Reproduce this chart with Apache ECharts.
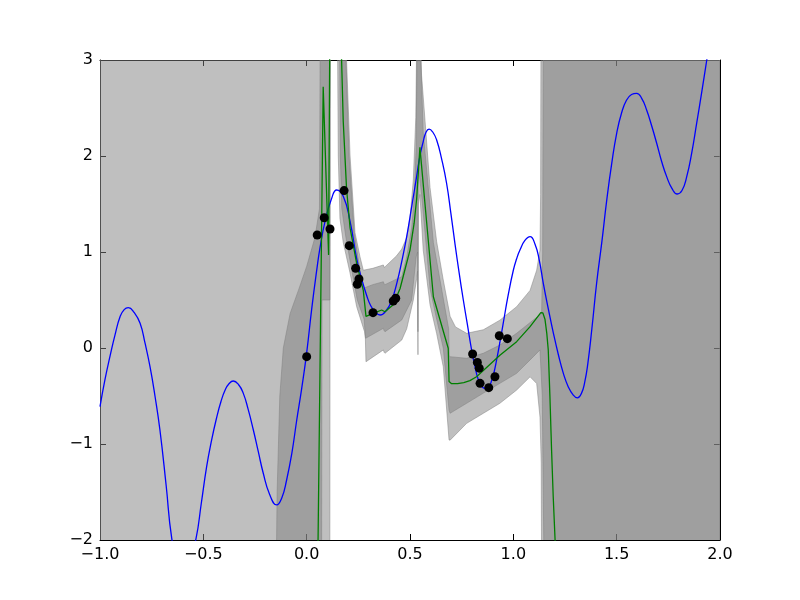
<!DOCTYPE html>
<html>
<head>
<meta charset="utf-8">
<script src="https://cdn.jsdelivr.net/npm/echarts@6/dist/echarts.min.js"></script>
<style>
  html, body { margin: 0; padding: 0; background: #fff; }
  #chart { width: 800px; height: 600px; }
</style>
</head>
<body>
<div id="chart"></div>
<script>
  // tick positions
  const xTicks = [-1.0, -0.5, 0.0, 0.5, 1.0, 1.5, 2.0];
  const yTicks = [-2, -1, 0, 1, 2, 3];

  // true function (blue)
  const truthLine = [
    [-1.0,-0.61],[-0.976,-0.33],[-0.952,-0.09],[-0.927,0.14],[-0.903,0.326],[-0.883,0.40],[-0.863,0.42],
    [-0.835,0.37],[-0.806,0.257],[-0.782,0.05],[-0.758,-0.195],[-0.734,-0.5],[-0.71,-0.854],[-0.68,-1.43],
    [-0.653,-1.98],[-0.625,-2.22],[-0.594,-2.3],[-0.565,-2.2],[-0.535,-1.98],[-0.51,-1.62],[-0.484,-1.236],
    [-0.46,-0.96],[-0.435,-0.72],[-0.415,-0.56],[-0.395,-0.44],[-0.375,-0.37],[-0.355,-0.344],[-0.33,-0.38],
    [-0.307,-0.47],[-0.283,-0.64],[-0.258,-0.854],[-0.234,-1.08],[-0.21,-1.305],[-0.18,-1.52],[-0.145,-1.635],
    [-0.12,-1.56],[-0.097,-1.375],[-0.072,-1.1],[-0.048,-0.75],[-0.024,-0.42],[0.0,-0.05],[0.024,0.40],
    [0.048,0.80],[0.065,1.05],[0.089,1.32],[0.121,1.56],[0.145,1.646],[0.177,1.58],[0.21,1.32],[0.242,0.93],
    [0.266,0.72],[0.29,0.55],[0.31,0.44],[0.331,0.378],[0.355,0.344],[0.387,0.396],[0.412,0.5],[0.436,0.674],
    [0.46,0.9],[0.484,1.16],[0.508,1.47],[0.532,1.785],[0.548,2.0],[0.564,2.15],[0.578,2.25],[0.592,2.28],
    [0.61,2.25],[0.629,2.167],[0.653,1.97],[0.677,1.716],[0.698,1.40],[0.718,1.08],[0.738,0.78],[0.758,0.5],
    [0.778,0.24],[0.798,-0.02],[0.815,-0.2],[0.831,-0.333],[0.847,-0.4],[0.863,-0.42],[0.879,-0.41],
    [0.895,-0.34],[0.907,-0.25],[0.919,-0.125],[0.935,0.06],[0.951,0.257],[0.975,0.55],[1.0,0.81],[1.016,0.93],
    [1.032,1.02],[1.056,1.12],[1.081,1.16],[1.105,1.08],[1.125,0.92],[1.145,0.674],[1.17,0.4],[1.194,0.153],
    [1.218,-0.07],[1.242,-0.264],[1.265,-0.40],[1.29,-0.49],[1.31,-0.52],[1.33,-0.47],[1.345,-0.36],
    [1.36,-0.17],[1.38,0.2],[1.403,0.674],[1.428,1.1],[1.452,1.54],[1.476,1.92],[1.5,2.236],[1.524,2.45],
    [1.548,2.583],[1.572,2.64],[1.597,2.653],[1.621,2.6],[1.645,2.48],[1.67,2.31],[1.694,2.13],[1.718,1.94],
    [1.742,1.785],[1.768,1.66],[1.793,1.604],[1.816,1.64],[1.839,1.785],[1.863,2.03],[1.887,2.34],
    [1.912,2.67],[1.936,3.0],[1.97,3.45],[2.0,3.85]
  ];

  // predicted mean (green)
  const meanLine = [
    [0.052,-2.6],[0.080,2.72],[0.106,0.97],[0.112,3.3],[0.14,4.0],[0.169,3.0],[0.177,2.36],[0.193,1.66],
    [0.21,1.25],[0.242,0.88],[0.274,0.6],[0.287,0.33],[0.322,0.361],[0.363,0.396],[0.371,0.40],[0.379,0.378],
    [0.419,0.45],[0.452,0.62],[0.476,0.82],[0.5,1.02],[0.52,1.3],[0.532,1.55],[0.548,2.09],[0.573,1.49],
    [0.613,0.534],[0.685,-0.003],[0.689,-0.35],[0.70,-0.37],[0.73,-0.372],[0.76,-0.36],[0.79,-0.34],
    [0.822,-0.3],[0.935,-0.075],[1.016,0.066],[1.08,0.22],[1.133,0.368],[1.143,0.365],[1.153,0.30],
    [1.162,0.15],[1.169,-0.02],[1.177,-0.5],[1.185,-1.06],[1.193,-1.55],[1.202,-2.0],[1.21,-2.5]
  ];

  // observations
  const samples = [
    [0.0,-0.09],[0.051,1.177],[0.085,1.357],[0.113,1.24],[0.181,1.64],[0.206,1.066],[0.237,0.83],
    [0.245,0.664],[0.253,0.72],[0.321,0.368],[0.419,0.49],[0.431,0.518],[0.803,-0.0625],[0.826,-0.15],
    [0.835,-0.21],[0.839,-0.368],[0.881,-0.413],[0.911,-0.299],[0.932,0.128],[0.971,0.097]
  ];

  // wide confidence band
  const outerHi = [
    [-1.0,3.5],[0.19,3.5],[0.193,3.0],[0.21,2.0],[0.234,1.2],[0.258,0.95],[0.274,0.81],[0.32,0.83],
    [0.371,0.865],[0.375,0.84],[0.379,0.845],[0.435,0.96],[0.46,1.03],[0.484,1.15],[0.5,1.35],[0.516,1.75],
    [0.528,2.4],[0.534,3.5],[0.546,3.5],[0.556,2.84],[0.573,2.36],[0.597,1.67],[0.629,1.107],[0.66,0.72],
    [0.694,0.33],[0.72,0.22],[0.774,0.153],[0.855,0.19],[0.935,0.29],[1.016,0.43],[1.081,0.6],[1.113,0.81],
    [1.129,1.02],[1.132,1.6],[1.134,3.5],[2.0,3.5]
  ];
  const outerLo = [
    [-1.0,-2.5],[0.112,-2.5],[0.114,3.3],[0.145,3.3],[0.150,3.0],[0.153,2.0],[0.161,1.35],[0.177,1.1],
    [0.21,0.78],[0.242,0.43],[0.28,0.17],[0.284,0.1],[0.287,-0.143],[0.371,-0.02],[0.375,-0.045],
    [0.379,-0.055],[0.46,0.083],[0.484,0.2],[0.5,0.35],[0.516,0.5],[0.532,0.72],[0.5365,0.8],[0.5385,-0.07],
    [0.5405,1.5],[0.548,1.6],[0.564,1.02],[0.597,0.45],[0.629,0.15],[0.661,-0.195],[0.689,-0.958],
    [0.694,-0.96],[0.774,-0.785],[0.855,-0.68],[0.935,-0.576],[1.016,-0.438],[1.081,-0.30],[1.113,-0.37],
    [1.129,-0.72],[1.135,-1.2],[1.137,-2.5],[2.0,-2.5]
  ];

  // narrow confidence band
  const innerHi = [
    [-1.0,-2.3],[-0.147,-2.3],[-0.143,-1.5],[-0.13,-0.5],[-0.113,0.0],[-0.08,0.36],[-0.04,0.6],[0.0,0.85],
    [0.04,1.15],[0.062,1.45],[0.066,3.5],[0.18,3.5],[0.19,3.0],[0.205,2.0],[0.23,1.2],[0.255,0.85],
    [0.274,0.622],[0.32,0.66],[0.371,0.69],[0.375,0.665],[0.379,0.66],[0.46,0.743],[0.484,0.95],[0.508,1.25],
    [0.52,1.55],[0.53,2.1],[0.535,3.5],[0.545,3.5],[0.564,2.24],[0.613,1.1],[0.687,0.2],[0.690,-0.09],
    [0.774,-0.107],[0.855,-0.055],[0.935,0.031],[1.016,0.153],[1.097,0.292],[1.137,0.36],[1.142,1.0],
    [1.145,3.5],[2.0,3.5]
  ];
  const innerLo = [
    [-1.0,-2.6],[0.072,-2.6],[0.074,0.5],[0.112,0.5],[0.114,3.3],[0.156,3.3],[0.16,3.0],[0.163,2.0],
    [0.17,1.45],[0.19,1.15],[0.215,0.85],[0.245,0.5],[0.278,0.3],[0.285,0.101],[0.371,0.205],[0.375,0.18],
    [0.379,0.17],[0.46,0.292],[0.508,0.5],[0.52,0.75],[0.53,0.95],[0.537,1.0],[0.5385,0.17],[0.54,1.9],
    [0.556,1.6],[0.597,0.62],[0.629,0.3],[0.661,0.0],[0.689,-0.646],[0.694,-0.68],[0.774,-0.576],
    [0.855,-0.47],[0.935,-0.368],[1.016,-0.264],[1.097,-0.09],[1.129,-0.02],[1.14,-0.5],[1.15,-2.6],[2.0,-2.6]
  ];

  const chart = echarts.init(document.getElementById('chart'));
  const font = 'DejaVu Sans';
  const minus = v => String(v).replace('-', '\u2212');

  // band polygon = upper edge forward + lower edge backward
  function band(hi, lo) {
    return {
      type: 'custom',
      clip: true,
      silent: true,
      z: 1,
      data: [[0, 0]],
      renderItem: function (params, api) {
        const pts = hi.map(p => api.coord(p))
          .concat(lo.slice().reverse().map(p => api.coord(p)));
        return {
          type: 'polygon',
          shape: { points: pts },
          style: { fill: 'rgba(128,128,128,0.5)', stroke: 'rgba(128,128,128,0.5)', lineWidth: 1 }
        };
      }
    };
  }

  const tick = { show: true, inside: true, length: 6, lineStyle: { color: '#000', width: 1 } };
  const line = { show: true, onZero: false, lineStyle: { color: '#000', width: 1 } };
  const xMin = xTicks[0], xMax = xTicks[xTicks.length - 1];
  const yMin = yTicks[0], yMax = yTicks[yTicks.length - 1];

  const option = {
    animation: false,
    backgroundColor: '#fff',
    grid: { left: 100, right: 80, top: 60, bottom: 60 },
    xAxis: [
      {
        type: 'value', min: xMin, max: xMax, interval: 0.5, position: 'bottom',
        axisLine: line, axisTick: tick, splitLine: { show: false },
        axisLabel: {
          color: '#000', fontSize: 16, fontFamily: font, margin: 7,
          formatter: v => minus(v.toFixed(1))
        }
      },
      {
        type: 'value', min: xMin, max: xMax, interval: 0.5, position: 'top',
        axisLine: line, axisTick: tick, splitLine: { show: false }, axisLabel: { show: false }
      }
    ],
    yAxis: [
      {
        type: 'value', min: yMin, max: yMax, interval: 1, position: 'left',
        axisLine: line, axisTick: tick, splitLine: { show: false },
        axisLabel: {
          color: '#000', fontSize: 16, fontFamily: font, margin: 7,
          formatter: v => minus(v)
        }
      },
      {
        type: 'value', min: yMin, max: yMax, interval: 1, position: 'right',
        axisLine: line, axisTick: tick, splitLine: { show: false }, axisLabel: { show: false }
      }
    ],
    series: [
      band(outerHi, outerLo),
      band(innerHi, innerLo),
      {
        type: 'line', data: truthLine, showSymbol: false, smooth: 0.5, z: 3,
        lineStyle: { color: '#0000ff', width: 1.3 }
      },
      {
        type: 'line', data: meanLine, showSymbol: false, z: 4,
        lineStyle: { color: '#008000', width: 1.3 }
      },
      {
        type: 'scatter', data: samples, symbolSize: 9, z: 5,
        itemStyle: { color: '#000', opacity: 1 }
      }
    ]
  };

  chart.setOption(option);
</script>
</body>
</html>
